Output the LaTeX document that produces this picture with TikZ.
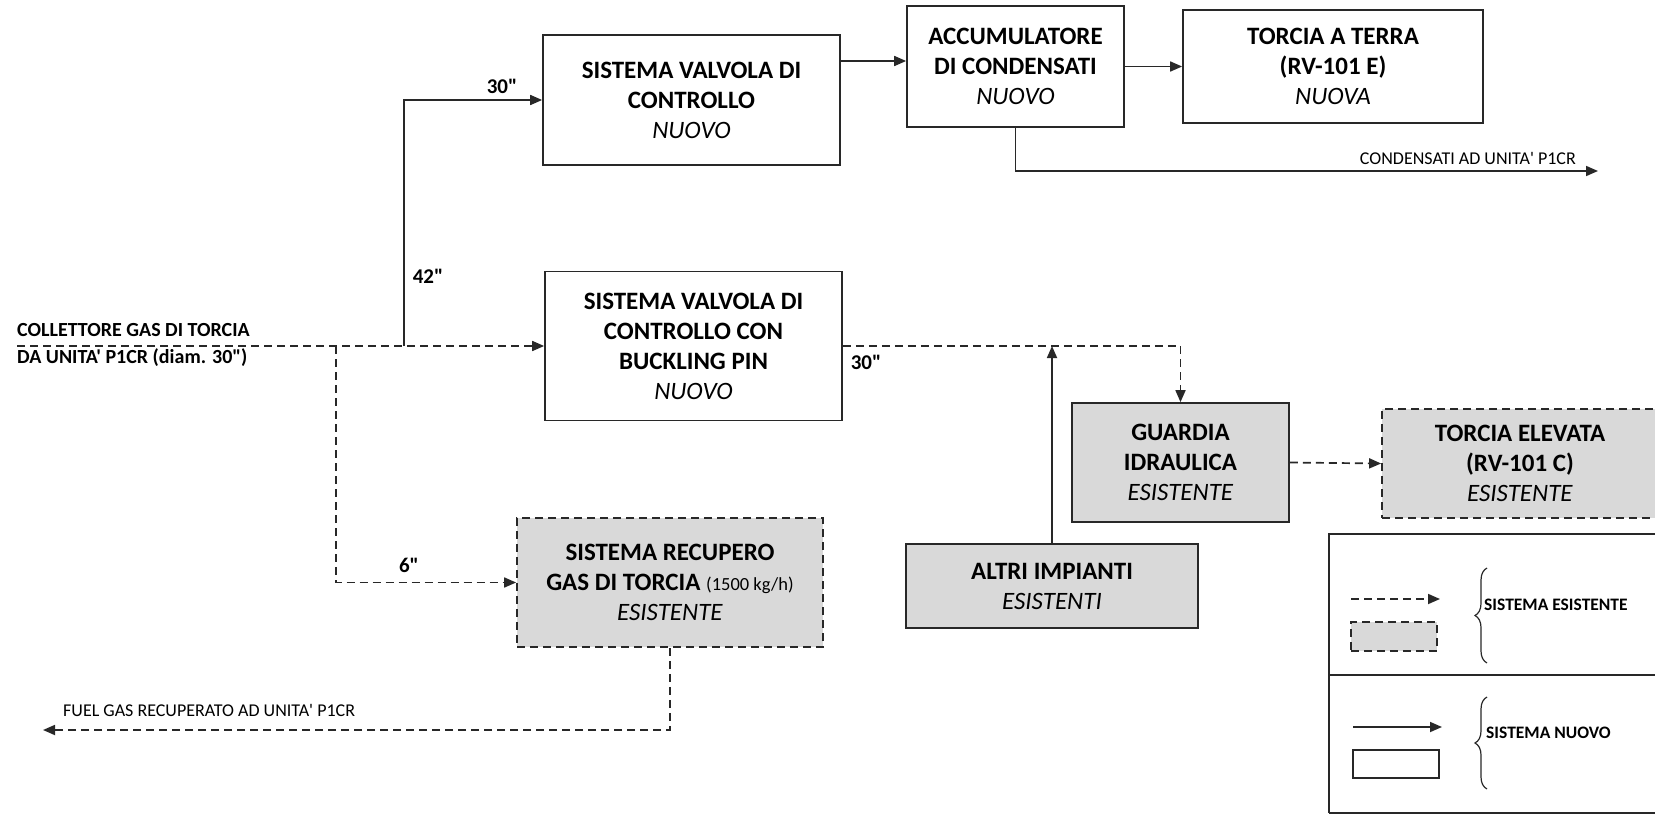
\documentclass[tikz,border=0pt]{standalone}
\usepackage{fontspec}
\newfontfamily\calfont{Carlito}
\usepackage{xcolor}
\usetikzlibrary{arrows.meta,decorations.pathreplacing}
\definecolor{boxgray}{RGB}{217,217,217}
\definecolor{linegray}{RGB}{40,40,40}
\newcommand{\bigtxt}{\calfont\fontsize{25}{30}\selectfont}
\newcommand{\smalltxt}{\calfont\fontsize{18}{21}\selectfont}
\newcommand{\kgtxt}{\calfont\fontsize{18.5}{21}\selectfont}
\newcommand{\colltxt}{\calfont\fontsize{20}{24}\selectfont\bfseries}
\newcommand{\pipetxt}{\calfont\fontsize{21}{24}\selectfont\bfseries}
\newcommand{\legtxt}{\calfont\fontsize{17.5}{20}\selectfont\bfseries}
\tikzset{
  newbox/.style={draw=linegray, line width=1.7pt, fill=white, align=center, font=\bigtxt},
  oldbox/.style={newbox, fill=boxgray},
  oldboxdash/.style={oldbox, dash pattern=on 8pt off 5pt},
  newline/.style={draw=linegray, line width=1.7pt},
  oldline/.style={newline, dash pattern=on 8pt off 5pt},
  arr/.style={-{Triangle[length=12pt,width=10pt]}},
  bracel/.style={draw=linegray, line width=1.2pt, decorate, decoration={brace, amplitude=12pt}}
}

\begin{document}
\begin{tikzpicture}[x=1pt, y=-1pt]
  \tikzstyle{every node}+=[inner sep=0pt]
  \useasboundingbox (0,0) rectangle (1655,814);
  \node[newbox, minimum width=297, minimum height=130] (svcTop) at (691.5,100) {\textbf{SISTEMA VALVOLA DI}\\\textbf{CONTROLLO}\\\textit{NUOVO}};
  \node[newbox, minimum width=217, minimum height=121] (accum) at (1015.5,66.5) {\textbf{ACCUMULATORE}\\\textbf{DI CONDENSATI}\\\textit{NUOVO}};
  \node[newbox, minimum width=300, minimum height=113] (torciaTerra) at (1333,66.5) {\textbf{TORCIA A TERRA}\\\textbf{(RV-101 E)}\\\textit{NUOVA}};
  \node[newbox, minimum width=297, minimum height=149] (svcMid) at (693.5,346) {\textbf{SISTEMA VALVOLA DI}\\\textbf{CONTROLLO CON}\\\textbf{BUCKLING PIN}\\\textit{NUOVO}};
  \node[oldboxdash, minimum width=306, minimum height=129] (recupero) at (670,582.5) {\textbf{SISTEMA RECUPERO}\\\textbf{GAS DI TORCIA} {\kgtxt(1500 kg/h)}\\\textit{ESISTENTE}};
  \node[oldbox, minimum width=292, minimum height=84] (altri) at (1052,586) {\textbf{ALTRI IMPIANTI}\\\textit{ESISTENTI}};
  \node[oldbox, minimum width=217, minimum height=119] (guardia) at (1180.5,462.5) {\textbf{GUARDIA}\\\textbf{IDRAULICA}\\\textit{ESISTENTE}};
  \node[oldboxdash, minimum width=276, minimum height=109] (torciaElev) at (1520,463.5) {\textbf{TORCIA ELEVATA}\\\textbf{(RV-101 C)}\\\textit{ESISTENTE}};

  \coordinate (inlet) at (17,346);
  \coordinate (j6) at (336,346);
  \coordinate (j42) at (404,346);
  \coordinate (condOut) at (1598,171);
  \coordinate (fuelOut) at (43,730);
  \coordinate (accIn) at ([yshift=5.5pt]accum.west);

  \draw[oldline, arr] (inlet) -- (svcMid.west);
  \draw[newline, arr] (j42) |- (svcTop.west);
  \draw[oldline, arr] (j6) |- (recupero.west);
  \draw[newline, arr] (accIn -| svcTop.east) -- (accIn);
  \draw[newline, arr] (accum.east) -- (torciaTerra.west);
  \draw[newline, arr] (accum.south) |- (condOut);
  \draw[oldline, arr] (svcMid.east) -| (guardia.north);
  \draw[newline, arr] (altri.north) -- (altri.north |- svcMid.east);
  \draw[oldline, arr] (guardia.east) -- (torciaElev.west);
  \draw[oldline, arr] (recupero.south) |- (fuelOut);

  \node[anchor=west, font=\colltxt] (collA) at (17,330) {COLLETTORE GAS DI TORCIA};
  \node[anchor=west, font=\colltxt] (collB) at (17,358) {DA UNITA' P1CR (diam. 30")};
  \node[anchor=east, font=\smalltxt] (condLbl) at (1576,158) {CONDENSATI AD UNITA' P1CR};
  \node[anchor=west, font=\smalltxt] (fuelLbl) at (63,710) {FUEL GAS RECUPERATO AD UNITA' P1CR};
  \node[font=\pipetxt] (d30a) at (502,86) {30"};
  \node[font=\pipetxt] (d42) at (428,276) {42"};
  \node[font=\pipetxt] (d6) at (409,565) {6"};
  \node[font=\pipetxt] (d30b) at (866,362) {30"};

  \draw[newline] (1329,813) -- (1329,534) -- (1662,534);
  \draw[newline] (1329,813) -- (1662,813);
  \draw[newline] (1329,675) -- (1662,675);
  \coordinate (lgA1) at (1351,599);
  \coordinate (lgA2) at (1440,599);
  \draw[oldline, arr] (lgA1) -- (lgA2);
  \node[oldboxdash, minimum width=86, minimum height=29] (lgOld) at (1394,636.5) {};
  \draw[bracel] (1487,663) -- (1487,568);
  \node[anchor=west, font=\legtxt] (lgOldTxt) at (1484,605) {SISTEMA ESISTENTE};
  \coordinate (lgB1) at (1353,727);
  \coordinate (lgB2) at (1442,727);
  \draw[newline, arr] (lgB1) -- (lgB2);
  \node[newbox, minimum width=86, minimum height=28] (lgNew) at (1396,764) {};
  \draw[bracel] (1487,789) -- (1487,697);
  \node[anchor=west, font=\legtxt] (lgNewTxt) at (1486,733) {SISTEMA NUOVO};
\end{tikzpicture}
\end{document}
